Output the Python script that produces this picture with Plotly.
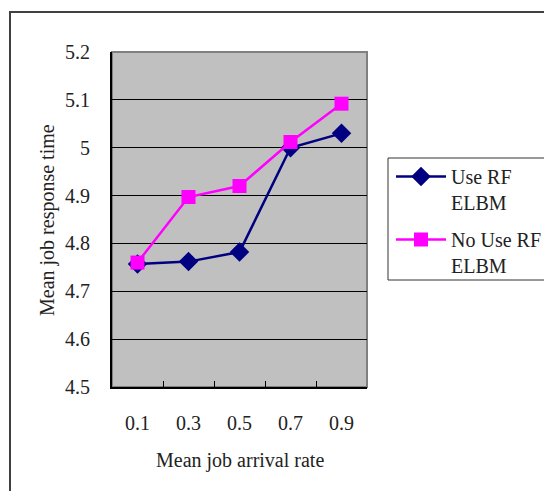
import plotly.graph_objects as go

categories = ["0.1", "0.3", "0.5", "0.7", "0.9"]
use_rf = [4.757, 4.762, 4.782, 5.000, 5.030]
no_use_rf = [4.760, 4.897, 4.920, 5.012, 5.092]
series_names = ["Use RF<br>ELBM", "No Use RF<br>ELBM"]
y_ticks = [4.5, 4.6, 4.7, 4.8, 4.9, 5.0, 5.1, 5.2]
y_ticktext = ["4.5", "4.6", "4.7", "4.8", "4.9", "5", "5.1", "5.2"]

FONT = "Liberation Serif"
TXT = "#222222"

# page has an 8px body margin; work in page pixels and convert
OFF = 8
FW, FH = 552 - OFF, 491 - OFF
PL, PR, PT, PB = 112, 367, 52, 387  # plot box in page pixels
L, T = PL - OFF, PT - OFF
R, B = FW - (PR - OFF), FH - (PB - OFF)
W, H = PR - PL, PB - PT


def px(x):
    return (x - PL) / W


def py(y):
    return (PB - y) / H


fig = go.Figure()
fig.add_trace(go.Scatter(
    x=categories, y=use_rf, name=series_names[0], mode="lines+markers",
    legendgroup="a",
    line=dict(color="#000080", width=2.5),
    marker=dict(symbol="diamond", size=15, color="#000080"),
))
fig.add_trace(go.Scatter(
    x=categories, y=no_use_rf, name=series_names[1], mode="lines+markers",
    legendgroup="b",
    line=dict(color="#FF00FF", width=2.5),
    marker=dict(symbol="square", size=14, color="#FF00FF"),
))

fig.update_layout(
    width=FW, height=FH,
    margin=dict(l=L, r=R, t=T, b=B, autoexpand=False),
    paper_bgcolor="white",
    plot_bgcolor="#C0C0C0",
    font=dict(family=FONT, size=20, color=TXT),
    showlegend=True,
    legend=dict(
        x=px(391), y=py(157), xanchor="left", yanchor="top",
        borderwidth=0, bgcolor="rgba(0,0,0,0)",
        font=dict(family=FONT, size=20, color=TXT),
        traceorder="grouped", tracegroupgap=8, valign="top",
        itemwidth=50,
    ),
    xaxis=dict(
        type="category", range=[-0.5, 4.5],
        showline=True, linecolor="black", linewidth=2,
        ticks="inside", ticklen=6, tickcolor="black", tickwidth=1,
        tickson="boundaries", showgrid=False, zeroline=False,
        tickfont=dict(family=FONT, size=20, color=TXT),
        ticklabelstandoff=17,
    ),
    yaxis=dict(
        range=[4.5, 5.2], tickvals=y_ticks, ticktext=y_ticktext,
        showline=True, linecolor="black", linewidth=2,
        ticks="inside", ticklen=6, tickcolor="black",
        showgrid=True, gridcolor="black", gridwidth=1, zeroline=False,
        tickfont=dict(family=FONT, size=20, color=TXT),
        ticklabelstandoff=16,
    ),
    shapes=[
        dict(type="rect", xref="paper", yref="paper", x0=0, x1=1, y0=0, y1=1,
             line=dict(color="#808080", width=2), layer="below"),
        dict(type="rect", xref="paper", yref="paper",
             x0=px(10), x1=px(600), y0=py(12), y1=py(540),
             line=dict(color="#404040", width=2), layer="below"),
        dict(type="rect", xref="paper", yref="paper",
             x0=px(388), x1=px(551), y0=py(158), y1=py(280),
             line=dict(color="#333333", width=1), layer="below"),
    ],
    annotations=[
        dict(text="Mean job arrival rate", xref="paper", yref="paper",
             x=px(240), y=py(460), xanchor="center", yanchor="middle",
             showarrow=False, font=dict(family=FONT, size=20, color=TXT)),
        dict(text="Mean job response time", xref="paper", yref="paper",
             x=px(47), y=py(220), xanchor="center", yanchor="middle",
             textangle=-90, showarrow=False,
             font=dict(family=FONT, size=20, color=TXT)),
    ],
)

fig.write_html("out.html")
